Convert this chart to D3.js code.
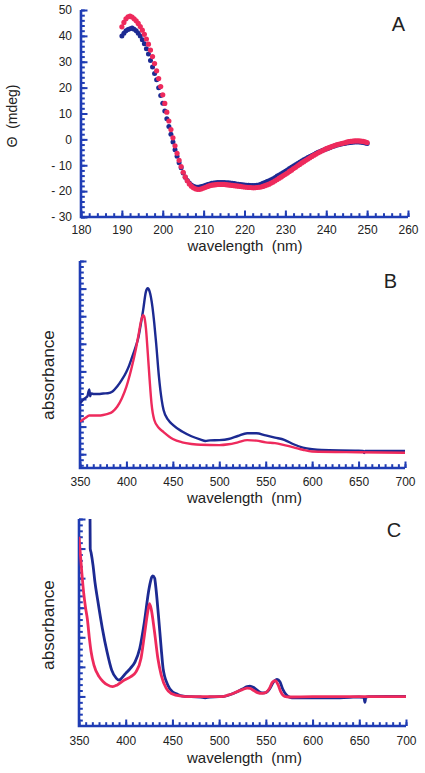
<!DOCTYPE html>
<html><head><meta charset="utf-8">
<script src="https://cdn.jsdelivr.net/npm/d3@7"></script>
<style>
body{margin:0;background:#fff}
svg{display:block;background:#fff}
text{font-family:"Liberation Sans",Arial,Helvetica,sans-serif;fill:#222}
</style>
</head><body>
<svg id="chart" width="425" height="773"></svg>
<script>
// ---------- Panel A: CD spectra (mdeg), sampled every 0.5 nm from 190 to 250 nm ----------
const cdStartNm = 190, cdStepNm = 0.5;
const cdBlue = [
  40.0, 41.0, 42.0, 42.5, 42.8, 43.0, 42.6, 42.0, 41.0, 40.0,
  38.5, 37.0, 35.0, 33.0, 30.5, 28.0, 25.5, 23.0, 20.0, 17.0,
  14.0, 11.0, 8.0, 5.0, 2.0, -1.0, -4.0, -6.5, -9.0, -11.0,
  -13.0, -14.6, -15.9, -16.9, -17.6, -18.1, -18.4, -18.5, -18.4, -18.2,
  -18.0, -17.7, -17.4, -17.2, -17.0, -16.9, -16.8, -16.7, -16.7, -16.7,
  -16.7, -16.8, -16.8, -16.9, -17.0, -17.1, -17.2, -17.3, -17.4, -17.5,
  -17.6, -17.7, -17.7, -17.8, -17.8, -17.8, -17.7, -17.6, -17.3, -17.0,
  -16.7, -16.3, -16.0, -15.6, -15.2, -14.7, -14.2, -13.8, -13.3, -12.8,
  -12.3, -11.8, -11.3, -10.8, -10.3, -9.8, -9.3, -8.8, -8.4, -7.9,
  -7.5, -7.0, -6.6, -6.2, -5.8, -5.4, -5.0, -4.7, -4.3, -4.0,
  -3.7, -3.4, -3.1, -2.8, -2.6, -2.3, -2.1, -1.9, -1.7, -1.6,
  -1.4, -1.3, -1.2, -1.1, -1.0, -1.0, -1.0, -1.1, -1.2, -1.4,
  -1.6
];
const cdRed = [
  43.5, 45.2, 46.6, 47.4, 47.6, 47.3, 46.6, 45.8, 44.8, 43.6,
  42.2, 40.6, 38.8, 36.8, 34.5, 32.0, 29.3, 26.5, 23.5, 20.4,
  17.2, 13.9, 10.5, 7.1, 3.8, 0.6, -2.5, -5.4, -8.1, -10.5,
  -12.7, -14.5, -16.0, -17.2, -18.1, -18.7, -19.1, -19.3, -19.3, -19.1,
  -18.8, -18.5, -18.2, -17.9, -17.7, -17.6, -17.5, -17.4, -17.4, -17.4,
  -17.4, -17.5, -17.6, -17.7, -17.8, -17.9, -18.0, -18.1, -18.2, -18.3,
  -18.4, -18.5, -18.6, -18.6, -18.7, -18.7, -18.6, -18.5, -18.4, -18.2,
  -17.9, -17.6, -17.3, -16.9, -16.5, -16.0, -15.5, -15.0, -14.5, -14.0,
  -13.5, -13.0, -12.4, -11.9, -11.3, -10.8, -10.2, -9.7, -9.1, -8.6,
  -8.1, -7.6, -7.1, -6.6, -6.1, -5.7, -5.2, -4.8, -4.4, -4.0,
  -3.6, -3.3, -3.0, -2.7, -2.4, -2.1, -1.9, -1.7, -1.5, -1.3,
  -1.1, -0.9, -0.8, -0.7, -0.6, -0.6, -0.6, -0.7, -0.8, -1.0,
  -1.2
];
const cdXTicks = [180, 190, 200, 210, 220, 230, 240, 250, 260];
const cdYTicks = [-30, -20, -10, 0, 10, 20, 30, 40, 50];

// ---------- Panel B: absorbance (arbitrary units) ----------
const bBlueNm  = [350,352,355,358,359,360,361,362,365,370,375,380,385,390,395,400,403,405,410,413,415,418,421,423,425,428,430,432,435,438,440,445,450,460,470,480,485,490,500,510,520,530,540,550,560,570,580,590,600,610,650,655,656,657,700];
const bBlueAbs = [2.34,2.42,2.52,2.6,2.75,2.85,2.6,2.7,2.68,2.68,2.7,2.71,2.77,2.95,3.19,3.49,3.72,3.91,4.4,4.75,5.12,5.72,6.39,6.51,6.39,5.84,5.24,4.52,3.31,2.46,2.1,1.74,1.56,1.32,1.15,1.03,0.98,1.0,1.01,1.05,1.16,1.26,1.26,1.18,1.1,1.02,0.86,0.74,0.68,0.65,0.63,0.62,0.54,0.62,0.62];
const bRedNm   = [350,353,356,360,370,375,380,385,390,395,400,405,410,413,416,418,419,421,423,425,427,430,435,440,450,460,470,480,500,510,520,530,540,550,560,570,580,590,600,650,700];
const bRedAbs  = [1.68,1.75,1.82,1.9,1.9,1.92,1.96,2.04,2.22,2.52,2.95,3.55,4.28,4.82,5.36,5.54,5.5,5.06,4.16,3.19,2.34,1.74,1.45,1.3,1.05,0.93,0.87,0.84,0.83,0.86,0.93,1.01,0.99,0.93,0.9,0.83,0.75,0.66,0.6,0.57,0.55];

// ---------- Panel C: absorbance (arbitrary units) ----------
const cBlueNm  = [361.5,362,363,365,367,370,375,380,385,390,393,395,400,405,410,415,420,425,428,429,431,432,435,438,440,445,450,455,460,470,480,485,490,500,505,510,515,520,525,530,533,537,541,546,550,554,558,562,565,568,572,576,580,600,620,640,650,655,656,657,660,680,700];
const cBlueAbs = [8.5,6.0,5.85,5.44,4.88,4.26,3.3,2.51,1.89,1.61,1.55,1.6,1.78,1.95,2.17,2.62,3.52,4.65,5.04,5.08,5.0,4.76,3.75,2.62,1.95,1.39,1.16,1.08,1.02,0.99,0.98,0.95,0.98,0.99,1.0,1.04,1.1,1.17,1.25,1.33,1.35,1.3,1.2,1.12,1.13,1.25,1.48,1.58,1.5,1.25,1.05,0.97,0.95,0.95,0.95,0.97,0.98,0.97,0.8,0.97,0.99,1.0,1.0];
const cRedNm   = [350,351,353,355,357,359,361,363,366,371.5,376,380.5,386,391,398.5,405.5,411,416.4,420,423.6,425.4,427.2,430.8,434.4,438,443.4,448.7,459.5,470,500,505,510,515,520,525,530,533,537,541,546,550,554,557,560,563,566,570,575,600,650,700];
const cRedAbs  = [6.4,6.0,5.2,4.5,4.0,3.6,3.0,2.5,2.06,1.67,1.5,1.39,1.33,1.39,1.55,1.67,1.83,2.29,3.07,3.86,4.14,3.97,3.19,2.29,1.72,1.27,1.1,1.01,0.99,0.99,1.0,1.05,1.1,1.17,1.23,1.28,1.27,1.2,1.13,1.1,1.13,1.28,1.48,1.53,1.4,1.15,1.0,0.98,0.99,0.99,0.99];

const absXTicks = [350, 400, 450, 500, 550, 600, 650, 700];

// ---------- styles ----------
const AXIS = "#1f3cb4", BLUE = "#1c2a92", RED = "#ee2a5c";
const svg = d3.select("#chart");

function drawAxes(g, x, y, o) {
  const [x0, x1] = x.range();
  const [yb, yt] = y.range();
  g.append("g").attr("class", "tk").attr("transform", `translate(0,${yb})`)
    .call(d3.axisBottom(x).tickValues(o.xMinor).tickSize(-3.8).tickSizeOuter(0).tickFormat(""));
  g.append("g").attr("class", "tk lab").attr("transform", `translate(0,${yb})`)
    .call(d3.axisBottom(x).tickValues(o.xMajor).tickSize(-6.5).tickSizeOuter(0).tickPadding(o.xPad).tickFormat(d3.format("d")));
  g.append("g").attr("class", "tk").attr("transform", `translate(${x0},0)`)
    .call(d3.axisLeft(y).tickValues(o.yMinor).tickSize(-3.8).tickSizeOuter(0).tickFormat(""));
  g.append("g").attr("class", "tk lab").attr("transform", `translate(${x0},0)`)
    .call(d3.axisLeft(y).tickValues(o.yMajor).tickSize(-6.5).tickSizeOuter(0).tickPadding(9)
      .tickFormat(o.yFormat || (() => "")));
  g.selectAll(".tk .domain").remove();
  g.selectAll(".tk line").attr("stroke", AXIS).attr("stroke-width", 2);
  g.selectAll(".tk text").style("font-size", "12px").attr("fill", "#222");
  g.append("path")
    .attr("d", `M${x0},${yt}V${yb}H${x1}`)
    .attr("fill", "none").attr("stroke", AXIS).attr("stroke-width", 2.6);
}

function labelText(txt, x, y, size, rotate) {
  const t = svg.append("text").text(txt).attr("text-anchor", "middle")
    .style("font-size", size + "px");
  if (rotate) t.attr("transform", `translate(${x},${y}) rotate(-90)`);
  else t.attr("x", x).attr("y", y);
  return t;
}

// ================= Panel A =================
{
  const x = d3.scaleLinear().domain([180, 260]).range([81, 408]);
  const y = d3.scaleLinear().domain([-30, 50]).range([217, 10]);
  const g = svg.append("g");
  drawAxes(g, x, y, {
    xMajor: cdXTicks, xMinor: d3.range(180, 260.01, 2),
    yMajor: cdYTicks, yMinor: d3.range(-30, 50.01, 2),
    xPad: 8,
    yFormat: d => d < 0 ? "- " + Math.abs(d) : String(d)
  });
  const pts = (arr) => arr.map((v, i) => [cdStartNm + i * cdStepNm, v]);
  g.append("g").selectAll("circle").data(pts(cdBlue)).join("circle")
    .attr("cx", d => x(d[0])).attr("cy", d => y(d[1])).attr("r", 2.5).attr("fill", BLUE);
  g.append("g").selectAll("circle").data(pts(cdRed)).join("circle")
    .attr("cx", d => x(d[0])).attr("cy", d => y(d[1])).attr("r", 2.6).attr("fill", RED);
  labelText("wavelength  (nm)", 245, 250.5, 15).style("white-space", "pre");
  labelText("Θ  (mdeg)", 17, 116, 14, true).style("white-space", "pre");
  labelText("A", 398.5, 31, 20);
}

function absPanel(cfg) {
  const x = d3.scaleLinear().domain([350, 700]).range(cfg.xr);
  const y = d3.scaleLinear().domain(cfg.yd).range(cfg.yr);
  const g = svg.append("g");
  drawAxes(g, x, y, {
    xMajor: absXTicks, xMinor: d3.range(350, 700.01, 50 / 7),
    yMajor: cfg.yMajor, yMinor: cfg.yMinor, xPad: cfg.xPad
  });
  const id = "clip" + cfg.name;
  svg.append("clipPath").attr("id", id).append("rect")
    .attr("x", cfg.xr[0]).attr("y", cfg.yr[1]).attr("width", cfg.xr[1] - cfg.xr[0]).attr("height", cfg.yr[0] - cfg.yr[1]);
  const line = d3.line().x(d => x(d[0])).y(d => y(d[1])).curve(d3.curveMonotoneX);
  const cg = g.append("g").attr("clip-path", `url(#${id})`);
  cg.append("path").datum(cfg.blueNm.map((w, i) => [w, cfg.blueAbs[i]]))
    .attr("d", line).attr("fill", "none").attr("stroke", BLUE).attr("stroke-width", cfg.sw)
    .attr("stroke-linejoin", "round");
  cg.append("path").datum(cfg.redNm.map((w, i) => [w, cfg.redAbs[i]]))
    .attr("d", line).attr("fill", "none").attr("stroke", RED).attr("stroke-width", cfg.sw)
    .attr("stroke-linejoin", "round");
  labelText("wavelength  (nm)", (cfg.xr[0] + cfg.xr[1]) / 2 + 2, cfg.wlY, 15).style("white-space", "pre");
  labelText("absorbance", 53.5, cfg.absY, 17.2, true);
  labelText(cfg.name, cfg.letter[0], cfg.letter[1], 20);
}

// ================= Panel B =================
absPanel({
  name: "B", xr: [80, 405], yd: [0, 7.5], yr: [468, 261],
  yMajor: d3.range(0.5, 7.51, 1), yMinor: d3.range(0.1, 7.51, 0.2),
  blueNm: bBlueNm, blueAbs: bBlueAbs, redNm: bRedNm, redAbs: bRedAbs,
  sw: 2.4, xPad: 9.5, wlY: 503, absY: 375, letter: [390.5, 287.5]
});

// ================= Panel C =================
absPanel({
  name: "C", xr: [79, 406], yd: [0, 7], yr: [726, 519],
  yMajor: d3.range(1, 7.01, 1), yMinor: d3.range(0.2, 7.01, 0.2),
  blueNm: cBlueNm, blueAbs: cBlueAbs, redNm: cRedNm, redAbs: cRedAbs,
  sw: 2.8, xPad: 10.5, wlY: 762.5, absY: 625, letter: [394, 536.5]
});
</script>
</body></html>
